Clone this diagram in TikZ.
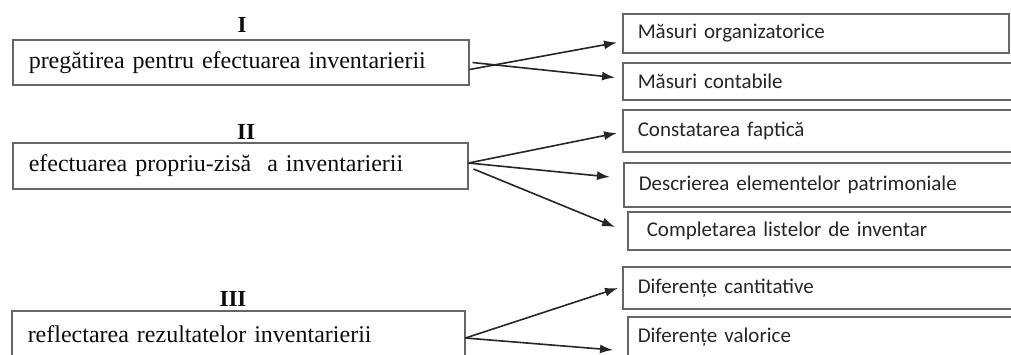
\documentclass[tikz,border=0pt]{standalone}
\usepackage{fontspec}
\setmainfont{Liberation Serif}
\newfontfamily\calibri{Carlito}
\usepackage{xcolor}
\usetikzlibrary{calc, arrows.meta}

\begin{document}
\begin{tikzpicture}[x = 1pt, y = -1pt,
		stage/.style = {draw = black!60, line width = 1.5pt, rectangle, anchor = west, inner xsep = 16pt, inner ysep = 0pt, align = left, font = \fontsize{24}{26}\selectfont, text = black!95},
		measure/.style = {draw = black!60, line width = 1.5pt, rectangle, anchor = west, inner xsep = 15pt, inner ysep = 0pt, align = left, font = \calibri\fontsize{21}{23}\selectfont, text = black!85},
		numeral/.style = {font = \bfseries\fontsize{23}{25}\selectfont, text = black!95},
		link/.style = {draw = black!85, line width = 1.6pt, -{Latex[length = 13pt, width = 9pt]}}]
		
		\useasboundingbox (0,0) rectangle (1011,354);
		\clip (0,0) rectangle (1011,354);
		
		\begin{scope}
		\node [numeral] (numI) at (242,25) {I};
		\node [numeral] (numII) at (246,132) {II};
		\node [numeral] (numIII) at (233,299) {III};
		\end{scope}
		
		\begin{scope}
		\node [stage, text width = 424pt, minimum height = 45pt] (prep) at (12,62.5) {pregătirea pentru efectuarea inventarierii};
		\node [stage, text width = 423pt, minimum height = 46pt] (exec) at (12,166) {efectuarea propriu-zisă~ a inventarierii};
		\node [stage, text width = 421pt, minimum height = 46pt] (refl) at (11,334) {reflectarea rezultatelor inventarierii};
		\end{scope}
		
		\begin{scope}
		\node [measure, text width = 356pt, minimum height = 39pt] (org) at (622,33.5) {Măsuri organizatorice};
		\node [measure, text width = 362pt, minimum height = 37pt] (cont) at (622,81.5) {Măsuri contabile};
		\node [measure, text width = 362pt, minimum height = 42pt] (fact) at (622,131) {Constatarea faptică};
		\node [measure, text width = 361pt, minimum height = 44pt] (descr) at (623,185) {Descrierea elementelor patrimoniale};
		\node [measure, inner xsep = 19pt, text width = 349pt, minimum height = 38pt] (compl) at (627,231) {Completarea listelor de inventar};
		\node [measure, text width = 362pt, minimum height = 42pt] (cant) at (622,288) {Diferențe cantitative};
		\node [measure, inner xsep = 10pt, text width = 367pt, minimum height = 41pt] (val) at (627,337.5) {Diferențe valorice};
		\end{scope}
		
		\begin{scope}
		\draw [link] ([shift = {(0,7)}]prep.east) -- ([shift = {(-5,9)}]org.west);
		\draw [link] ([shift = {(3,0)}]prep.east) -- ([shift = {(-7,-4)}]cont.west);
		\draw [link] ([shift = {(0,-3)}]exec.east) -- ([shift = {(-5,2)}]fact.west);
		\draw [link] ([shift = {(0,-3)}]exec.east) -- ([shift = {(-13,-8)}]descr.west);
		\draw [link] ([shift = {(5,3)}]exec.east) -- ([shift = {(-12,-4)}]compl.west);
		\draw [link] ([shift = {(0,4)}]refl.east) -- ([shift = {(-4,0)}]cant.west);
		\draw [link] ([shift = {(0,4)}]refl.east) -- ([shift = {(-14,12.5)}]val.west);
		\end{scope}
	\end{tikzpicture}
\end{document}
